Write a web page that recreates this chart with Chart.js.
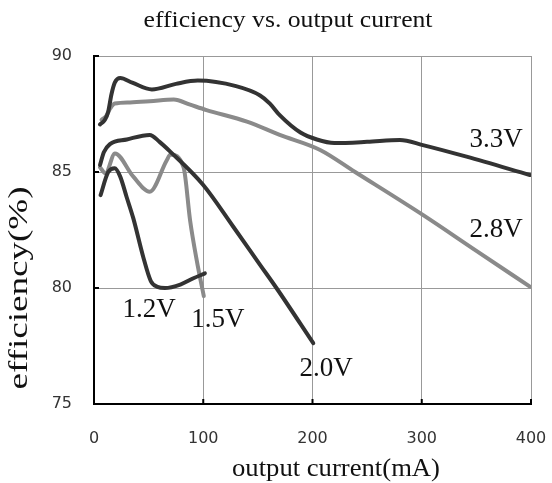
<!DOCTYPE html>
<html>
<head>
<meta charset="utf-8">
<script src="https://cdn.jsdelivr.net/npm/chart.js@4/dist/chart.umd.min.js"></script>
<style>
  html, body { margin: 0; padding: 0; background: #fff; }
  #wrap { width: 552px; height: 483px; }
</style>
</head>
<body>
<div id="wrap"><canvas id="chart" width="552" height="483"></canvas></div>
<script>
// ---------- Data ----------
const xTicks = [0, 100, 200, 300, 400];
const yTicks = [75, 80, 85, 90];

const cur33 = [5.5, 10, 13, 16, 19, 24, 35, 53, 75, 95, 130, 152, 161, 170, 189, 204, 220, 250, 280, 301, 341, 399];
const eff33 = [87.05, 87.25, 87.6, 88.35, 88.85, 89.05, 88.85, 88.56, 88.8, 88.94, 88.7, 88.3, 87.95, 87.45, 86.7, 86.4, 86.25, 86.3, 86.38, 86.16, 85.66, 84.87];

const cur28 = [7, 11, 15, 19, 33, 51, 73, 88, 103, 140, 170, 207, 239, 301, 350, 399];
const eff28 = [87.25, 87.4, 87.75, 87.95, 88.0, 88.05, 88.13, 87.9, 87.67, 87.17, 86.6, 85.95, 85.0, 83.15, 81.6, 80.06];

const cur20 = [5.5, 9, 14.6, 30, 51, 60, 70, 100, 127.5, 152, 167, 200.7];
const eff20 = [85.3, 85.85, 86.2, 86.4, 86.6, 86.3, 85.87, 84.44, 82.64, 81.0, 80.0, 77.62];

const cur15 = [5.5, 10.5, 19.2, 36, 51, 66.5, 70, 82, 88, 94, 100.5];
const eff15 = [85.2, 84.95, 85.8, 84.8, 84.15, 85.5, 85.75, 85.2, 82.9, 81.2, 79.65];

const cur12 = [6, 13, 19, 24, 30, 36, 45, 52, 58, 65, 79, 91, 101.5];
const eff12 = [84.0, 85.0, 85.16, 84.8, 83.9, 83.0, 81.35, 80.3, 80.05, 80.0, 80.15, 80.42, 80.63];

// curve labels, anchored in data units (x = centre, y = baseline)
const curveLabels = [
  { text: "3.3V", x: 368, y: 86.09 },
  { text: "2.8V", x: 368, y: 82.21 },
  { text: "1.2V", x: 50.5, y: 78.76 },
  { text: "1.5V", x: 113.3, y: 78.32 },
  { text: "2.0V", x: 212.4, y: 76.21 }
];

const DARK = "#333333";
const GRAY = "#8a8a8a";
const SERIF = '"Liberation Serif", "Times New Roman", serif';

const pts = (xs, ys) => xs.map((x, i) => ({ x, y: ys[i] }));

function series(data, color) {
  return {
    data, borderColor: color, borderWidth: 4, pointRadius: 0,
    cubicInterpolationMode: "monotone", borderCapStyle: "round", borderJoinStyle: "round", fill: false
  };
}

// stretched serif text, so lengths match the reference
function stretchText(ctx, text, x, y, size, width, rotated) {
  ctx.save();
  ctx.font = `${size}px ${SERIF}`;
  ctx.fillStyle = "#111";
  ctx.textAlign = "center";
  ctx.textBaseline = "alphabetic";
  const w = ctx.measureText(text).width;
  ctx.translate(x, y);
  if (rotated) ctx.rotate(-Math.PI / 2);
  ctx.scale(width / w, 1);
  ctx.fillText(text, 0, 0);
  ctx.restore();
}

const textLayer = {
  id: "textLayer",
  afterDatasetsDraw(chart) {
    const { ctx, scales: { x, y }, chartArea } = chart;

    // inward tick marks on the black axes
    ctx.save();
    ctx.strokeStyle = "#000";
    ctx.lineWidth = 2;
    xTicks.slice(1).forEach(v => {
      const px = x.getPixelForValue(v);
      ctx.beginPath(); ctx.moveTo(px, chartArea.bottom); ctx.lineTo(px, chartArea.bottom - 5); ctx.stroke();
    });
    yTicks.slice(1).forEach(v => {
      const py = y.getPixelForValue(v);
      ctx.beginPath(); ctx.moveTo(chartArea.left, py); ctx.lineTo(chartArea.left + 5, py); ctx.stroke();
    });
    ctx.restore();

    // curve labels
    ctx.save();
    ctx.font = `27px ${SERIF}`;
    ctx.fillStyle = "#111";
    ctx.textAlign = "center";
    ctx.textBaseline = "alphabetic";
    curveLabels.forEach(l => ctx.fillText(l.text, x.getPixelForValue(l.x), y.getPixelForValue(l.y)));
    ctx.restore();

    // titles
    stretchText(ctx, "efficiency vs. output current", 288, 27, 24, 289, false);
    stretchText(ctx, "output current(mA)", 336, 476, 26, 208, false);
    stretchText(ctx, "efficiency(%)", 27, 288, 27, 203, true);
  }
};

new Chart(document.getElementById("chart"), {
  type: "line",
  data: {
    datasets: [
      series(pts(cur33, eff33), DARK),
      series(pts(cur20, eff20), DARK),
      series(pts(cur12, eff12), DARK),
      series(pts(cur28, eff28), GRAY),
      series(pts(cur15, eff15), GRAY)
    ]
  },
  options: {
    responsive: false,
    animation: false,
    layout: { padding: { left: 0, right: 21, top: 56, bottom: 0 } },
    plugins: { legend: { display: false }, tooltip: { enabled: false }, title: { display: false } },
    scales: {
      x: {
        type: "linear", min: 0, max: 400,
        afterBuildTicks: s => { s.ticks = xTicks.map(v => ({ value: v })); },
        afterFit: s => { s.height = 79; s.paddingLeft = 0; s.paddingRight = 0; },
        grid: { color: "#999", lineWidth: 1, drawTicks: false },
        border: { color: "#000", width: 2 },
        ticks: { padding: 25, color: "#333", font: { family: "DejaVu Sans", size: 16 } }
      },
      y: {
        min: 75, max: 90,
        afterBuildTicks: s => { s.ticks = yTicks.map(v => ({ value: v })); },
        afterFit: s => { s.width = 94; s.paddingTop = 0; s.paddingBottom = 0; },
        grid: { color: "#999", lineWidth: 1, drawTicks: false },
        border: { color: "#000", width: 2 },
        ticks: { padding: 22, color: "#333", font: { family: "DejaVu Sans", size: 16 } }
      }
    }
  },
  plugins: [textLayer]
});
</script>
</body>
</html>
